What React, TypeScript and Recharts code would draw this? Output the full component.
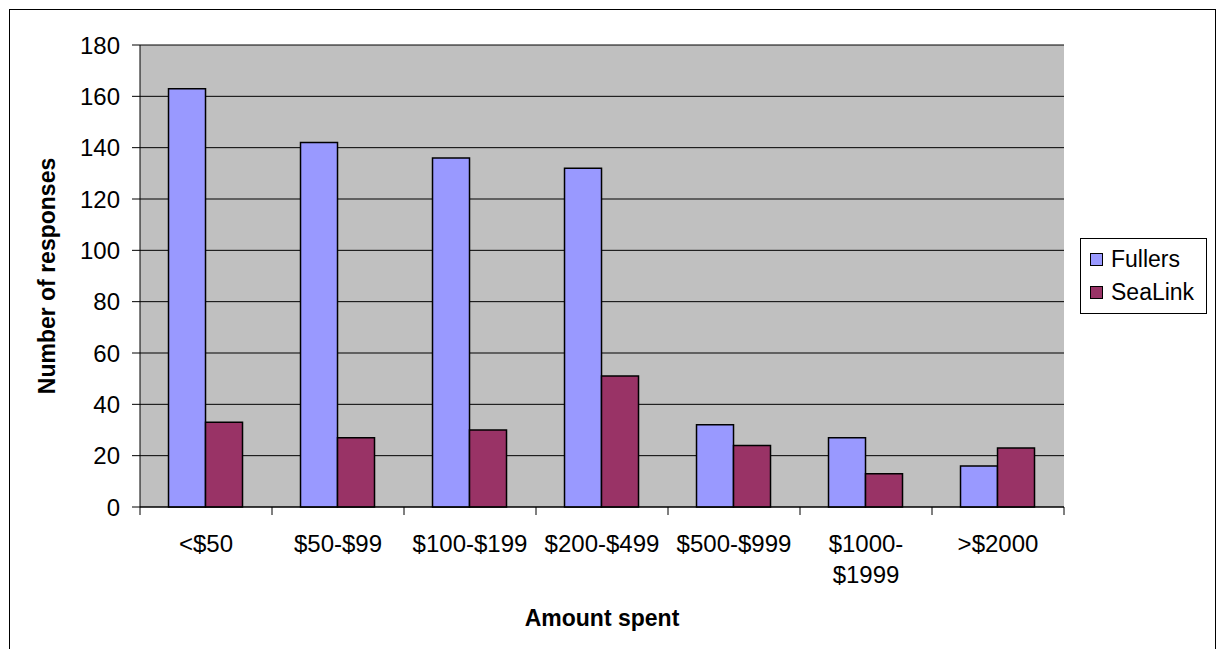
import React from 'react';
import { BarChart, Bar, XAxis, YAxis, CartesianGrid, Label } from 'recharts';

const categories = ['<$50', '$50-$99', '$100-$199', '$200-$499', '$500-$999', '$1000-$1999', '>$2000'];
const tickLabels = ['<$50', '$50-$99', '$100-$199', '$200-$499', '$500-$999', '$1000-\n$1999', '>$2000'];
const fullers = [163, 142, 136, 132, 32, 27, 16];
const sealink = [33, 27, 30, 51, 24, 13, 23];
const yTicks = [0, 20, 40, 60, 80, 100, 120, 140, 160, 180];

const data = categories.map((c, i) => ({ name: c, Fullers: fullers[i], SeaLink: sealink[i] }));

const FONT = '"Liberation Sans", Arial, sans-serif';
const PLOT_LEFT = 140;
const PLOT_RIGHT = 1064;
const BAND = (PLOT_RIGHT - PLOT_LEFT) / categories.length;

const XTick = (props: any) => {
  const { x, y, index } = props;
  const lines = tickLabels[index].split('\n');
  const left = x - BAND / 2;
  return (
    <g>
      <line x1={left} y1={y - 8} x2={left} y2={y} stroke="#000" />
      {index === categories.length - 1 && (
        <line x1={x + BAND / 2} y1={y - 8} x2={x + BAND / 2} y2={y} stroke="#000" />
      )}
      {lines.map((l: string, i: number) => (
        <text key={i} x={x} y={y + 37 + i * 31} textAnchor="middle" fontSize={24} fontFamily={FONT} fill="#000">
          {l}
        </text>
      ))}
    </g>
  );
};

const legendItems = [
  { name: 'Fullers', color: '#9999FF' },
  { name: 'SeaLink', color: '#993366' },
];

const LegendBox = () => (
  <div
    style={{
      position: 'absolute',
      left: 1080,
      top: 238,
      width: 127,
      height: 76,
      border: '1px solid #000',
      background: '#fff',
      fontFamily: FONT,
      fontSize: 23,
      boxSizing: 'border-box',
      paddingTop: 4,
    }}
  >
    {legendItems.map((it) => (
      <div key={it.name} style={{ display: 'flex', alignItems: 'center', height: 33 }}>
        <span
          style={{
            display: 'inline-block',
            width: 11,
            height: 11,
            background: it.color,
            border: '1px solid #000',
            marginLeft: 9,
            marginRight: 8,
          }}
        />
        <span>{it.name}</span>
      </div>
    ))}
  </div>
);

export default function App() {
  return (
    <div style={{ position: 'absolute', left: 0, top: 0, width: 1217, height: 649, background: '#fff', overflow: 'hidden' }}>
      <div
        style={{
          position: 'absolute',
          left: 9,
          top: 9,
          width: 1207,
          height: 700,
          border: '1px solid #000',
          boxSizing: 'border-box',
        }}
      />
      <div style={{ position: 'absolute', left: 0, top: 0 }}>
        <BarChart
          width={1217}
          height={649}
          data={data}
          margin={{ top: 45, right: 1217 - PLOT_RIGHT, bottom: 0, left: 20 }}
          barCategoryGap="21.6%"
          barGap={0}
        >
          <CartesianGrid vertical={false} stroke="#000" fill="#C0C0C0" fillOpacity={1} />
          <XAxis
            dataKey="name"
            height={142}
            axisLine={{ stroke: '#000' }}
            tickLine={false}
            tick={<XTick />}
            interval={0}
          >
            <Label
              content={() => (
                <text x={602} y={626} textAnchor="middle" fontSize={23} fontWeight="bold" fontFamily={FONT} fill="#000">
                  Amount spent
                </text>
              )}
            />
          </XAxis>
          <XAxis xAxisId="top" orientation="top" dataKey="name" height={0} tick={false} tickLine={false} axisLine={{ stroke: '#808080', strokeWidth: 2 }} />
          <YAxis
            width={120}
            domain={[0, 180]}
            ticks={yTicks}
            interval={0}
            axisLine={{ stroke: '#000' }}
            tickLine={{ stroke: '#000' }}
            tickSize={8}
            tickMargin={12}
            tick={{ fontSize: 24, fontFamily: FONT, fill: '#000' }}
          >
            <Label
              content={() => (
                <text
                  x={55}
                  y={276}
                  transform="rotate(-90 55 276)"
                  textAnchor="middle"
                  fontSize={23}
                  fontWeight="bold"
                  fontFamily={FONT}
                  fill="#000"
                >
                  Number of responses
                </text>
              )}
            />
          </YAxis>
          <YAxis yAxisId="r" orientation="right" width={0} domain={[0, 180]} tick={false} tickLine={false} axisLine={{ stroke: '#808080', strokeWidth: 2 }} />
          <Bar dataKey="Fullers" fill="#9999FF" stroke="#000" strokeWidth={1.5} isAnimationActive={false} />
          <Bar dataKey="SeaLink" fill="#993366" stroke="#000" strokeWidth={1.5} isAnimationActive={false} />
        </BarChart>
      </div>
      <LegendBox />
    </div>
  );
}
